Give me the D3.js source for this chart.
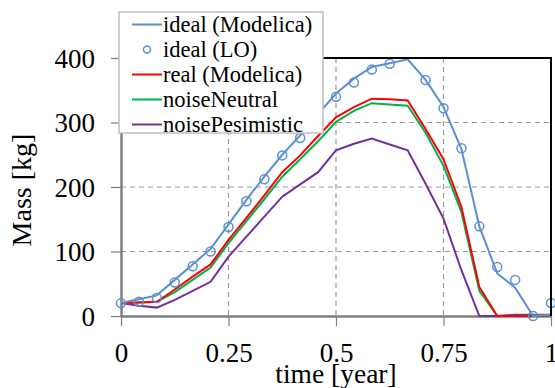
<!DOCTYPE html>
<html>
<head>
<meta charset="utf-8">
<script src="https://cdn.jsdelivr.net/npm/d3@7"></script>
<style>
  body { margin: 0; background: #fff; }
  svg text { font-family: "Liberation Serif", "Times New Roman", Times, serif; fill: #000; }
</style>
</head>
<body>
<svg width="555" height="388"></svg>
<script>
// time in half-month steps (24 steps = 1 year)
var steps = [0,1,2,3,4,5,6,7,8,9,10,11,12,13,14,15,16,17,18,19,20,21,22,23,24];
var xTicks = [0, 6, 12, 18, 24];
var xTickLabels = ["0", "0.25", "0.5", "0.75", "1"];
var yTicks = [0, 100, 200, 300, 400];

var idealModelica = [20,26,32,56,80,104,142,180,216,250,280,313,345,368,386,392,398,366,324,259,139,66,44,0,2];
var idealLO       = [20,22,28,52,77,100,138,178,212,249,276,305,340,362,382,391,412,366,322,260,139,76,56,0,20];
var realModelica  = [20,21,22,41,61,80,118,152,187,223,249,279,308,324,337,336,334,290,243,169,45,0,0,0,1];
var noiseNeutral  = [20,21,22,37,56,75,113,147,181,216,243,271,301,318,330,328,326,284,233,161,39,0,0,1,1];
var noisePesimistic = [20,16,13,25,39,53,92,123,154,185,204,223,257,267,275,266,257,205,151,71,0,0,2,2,2];

var serif = "'Liberation Serif', 'Times New Roman', Times, serif";

var svg = d3.select("svg"),
    pLeft = 121, pRight = 551, pTop = 58, pBottom = 316;

var x = d3.scaleLinear().domain([0, 24]).range([pLeft, pRight]),
    y = d3.scaleLinear().domain([0, 400]).range([pBottom, pTop]);

// markers above the 400 line are cut off at the top of the plot
svg.append("clipPath").attr("id", "clipTop")
  .append("rect").attr("x", 0).attr("y", pTop).attr("width", 555).attr("height", 388 - pTop);

// dashed grid
svg.append("g").selectAll("line")
  .data(yTicks.slice(1, 4))
  .enter().append("line")
  .attr("x1", pLeft).attr("x2", pRight)
  .attr("y1", d => y(d)).attr("y2", d => y(d))
  .attr("stroke", "#999").attr("stroke-width", 1.2).attr("stroke-dasharray", "5,4");
svg.append("g").selectAll("line")
  .data(xTicks.slice(1, 4))
  .enter().append("line")
  .attr("y1", pTop).attr("y2", pBottom)
  .attr("x1", d => x(d)).attr("x2", d => x(d))
  .attr("stroke", "#999").attr("stroke-width", 1.2).attr("stroke-dasharray", "5,4");

// axes
var xAxis = svg.append("g")
  .attr("transform", "translate(0," + pBottom + ")")
  .call(d3.axisBottom(x).tickValues(xTicks).tickFormat((d, i) => xTickLabels[i]).tickSizeInner(10).tickSizeOuter(0).tickPadding(17));
var yAxis = svg.append("g")
  .attr("transform", "translate(" + pLeft + ",0)")
  .call(d3.axisLeft(y).tickValues(yTicks).tickSizeInner(10).tickSizeOuter(0).tickPadding(16));
[xAxis, yAxis].forEach(function(a) {
  a.attr("font-family", serif);
  a.select(".domain").attr("stroke", "#7f7f7f").attr("stroke-width", 2.5);
  a.selectAll(".tick line").attr("stroke", "#7f7f7f").attr("stroke-width", 1.2);
  a.selectAll("text").attr("font-size", 27).attr("fill", "#000");
});
yAxis.selectAll("text").attr("dy", "0.34em");

svg.append("text")
  .attr("x", (pLeft + pRight) / 2).attr("y", 383)
  .attr("text-anchor", "middle").attr("font-size", 27.5)
  .text("time [year]");
svg.append("text")
  .attr("transform", "translate(31,190) rotate(-90)")
  .attr("text-anchor", "middle").attr("font-size", 28)
  .text("Mass [kg]");

// lines
var line = d3.line().x((d, i) => x(steps[i])).y(d => y(d));
var series = [
  { values: noisePesimistic, color: "#7030a0" },
  { values: noiseNeutral, color: "#00b050" },
  { values: realModelica, color: "#ff0000" },
  { values: idealModelica, color: "#5b8fd4" }
];
svg.append("g").selectAll("path")
  .data(series)
  .enter().append("path")
  .attr("d", d => line(d.values))
  .attr("fill", "none")
  .attr("stroke", d => d.color)
  .attr("stroke-width", 2);

svg.append("g").attr("clip-path", "url(#clipTop)").selectAll("circle")
  .data(idealLO)
  .enter().append("circle")
  .attr("cx", (d, i) => x(steps[i]))
  .attr("cy", d => y(d))
  .attr("r", 4.5)
  .attr("fill", "none")
  .attr("stroke", "#5b8fd4")
  .attr("stroke-width", 1.5);

// top and right frame
svg.append("path")
  .attr("d", "M" + pLeft + "," + pTop + "H" + pRight + "V" + pBottom)
  .attr("fill", "none").attr("stroke", "#000").attr("stroke-width", 2);

// legend
var legend = svg.append("g");
legend.append("rect")
  .attr("x", 119).attr("y", 12).attr("width", 204).attr("height", 121)
  .attr("fill", "#fff").attr("stroke", "#bfbfbf").attr("stroke-width", 1.5);
var items = [
  { name: "ideal (Modelica)", color: "#5b8fd4", kind: "line" },
  { name: "ideal (LO)", color: "#5b8fd4", kind: "circle" },
  { name: "real (Modelica)", color: "#ff0000", kind: "line" },
  { name: "noiseNeutral", color: "#00b050", kind: "line" },
  { name: "noisePesimistic", color: "#7030a0", kind: "line" }
];
items.forEach(function(it, i) {
  var cy = 24.5 + i * 25;
  if (it.kind == "line")
    legend.append("line").attr("x1", 132).attr("x2", 162).attr("y1", cy).attr("y2", cy)
      .attr("stroke", it.color).attr("stroke-width", 2);
  else
    legend.append("circle").attr("cx", 147).attr("cy", cy).attr("r", 3.5)
      .attr("fill", "none").attr("stroke", it.color).attr("stroke-width", 1.5);
  legend.append("text")
    .attr("x", 163).attr("y", cy).attr("dy", "0.33em")
    .attr("font-size", 22.5)
    .text(it.name);
});
</script>
</body>
</html>
